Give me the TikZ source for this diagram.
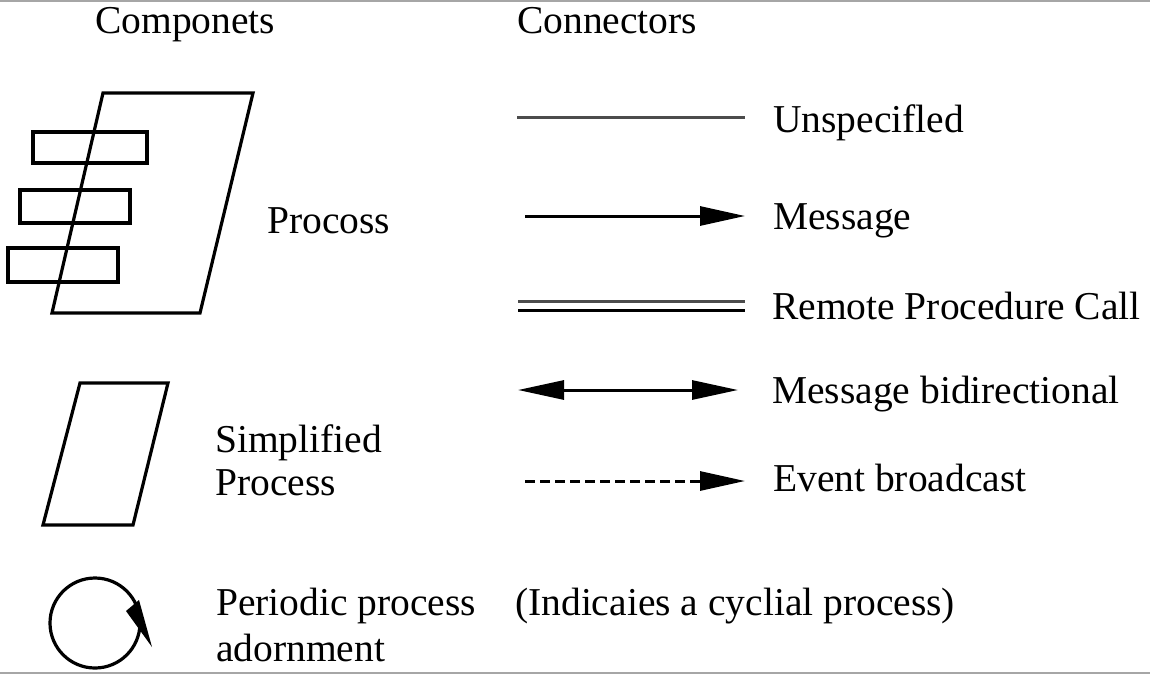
\documentclass[tikz,border=0pt]{standalone}
\usepackage{fontspec}
\setmainfont{Liberation Serif}
\usetikzlibrary{arrows.meta}
\begin{document}
\begin{tikzpicture}[x=1pt,y=-1pt,
  lbl/.style={anchor=base west,inner sep=0pt,font=\fontsize{39.5}{46}\selectfont},
  shp/.style={line width=3.2pt,line join=miter},
  conn/.style={line width=3pt},
  tipA/.style={-{Triangle[length=45pt,width=19pt]}},
  tipB/.style={{Triangle[length=46pt,width=19pt]}-{Triangle[length=46pt,width=19pt]}}]
\useasboundingbox (0,0) rectangle (1150,675);
\fill[white] (0,0) rectangle (1150,675);
\draw[gray!70,line width=1.5pt] (0,1) -- (1150,1);
\draw[gray!70,line width=1.5pt] (0,673) -- (1150,673);
% headers
\node[lbl] (hcomp) at (95,33) {Componets};
\node[lbl] (hconn) at (517,33) {Connectors};
% process
\draw[shp] (103,93) -- (253,93) -- (200,313) -- (52,313) -- cycle;
\draw[shp] (33,132) rectangle (147,163);
\draw[shp] (20,190) rectangle (130,223);
\draw[shp] (8,248) rectangle (118,282);
\node[lbl] (proc) at (267,233) {Procoss};
% simplified process
\draw[shp] (80,383) -- (168,383) -- (133,525) -- (43,525) -- cycle;
\node[lbl] (simp1) at (215,452) {Simplified};
\node[lbl] (simp2) at (215,495) {Process};
% periodic
\draw[shp] (95,623) circle (45);
\fill (126,611) -- (139,600) -- (152,647) -- cycle;
\node[lbl] (per1) at (216,615) {Periodic process};
\node[lbl] (per2) at (216,661) {adornment};
\node[lbl] (ind) at (515,615) {(Indicaies a cyclial process)};
% connectors
\coordinate (u1) at (517,117); \coordinate (u2) at (745,117);
\draw[conn,gray!60!black] (u1) -- (u2);
\node[lbl] (unsp) at (773,132) {Unspecifled};
\coordinate (m1) at (525,216); \coordinate (m2) at (745,216);
\draw[conn,tipA] (m1) -- (m2);
\node[lbl] (msg) at (773,229) {Message};
\coordinate (r1) at (518,301); \coordinate (r2) at (745,301);
\coordinate (r3) at (518,310); \coordinate (r4) at (745,310);
\draw[conn,gray!60!black] (r1) -- (r2);
\draw[conn] (r3) -- (r4);
\node[lbl] (rpc) at (772,319) {Remote Procedure Call};
\coordinate (b1) at (518,390); \coordinate (b2) at (738,390);
\draw[conn,tipB] (b1) -- (b2);
\node[lbl] (bid) at (772,403) {Message bidirectional};
\coordinate (e1) at (525,481); \coordinate (e2) at (745,481);
\draw[conn,tipA,dash pattern=on 10pt off 5pt] (e1) -- (e2);
\node[lbl] (evt) at (773,491) {Event broadcast};
\end{tikzpicture}
\end{document}
